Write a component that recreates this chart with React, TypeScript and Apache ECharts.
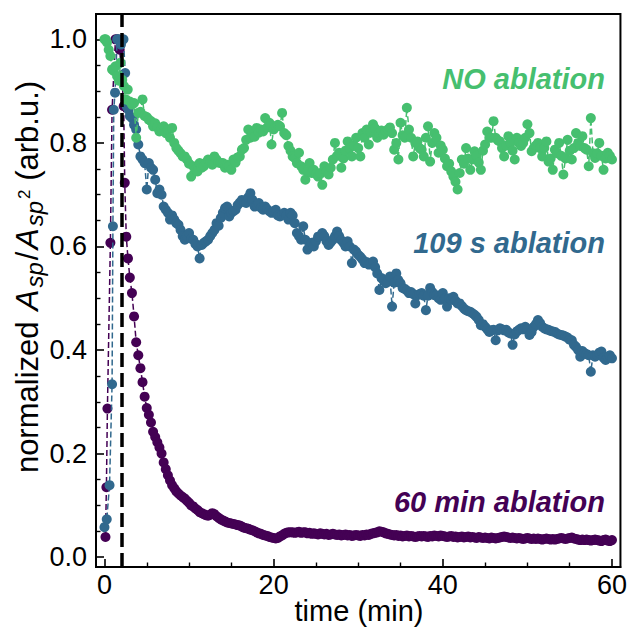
import { useEffect, useRef } from "react";
import * as echarts from "echarts";

// ---- sampling grid (minutes) for the regularly sampled part of each trace ----
const GRID_START = 3;
const GRID_STEP = 0.25;

// ---- NO ablation ----
const noAblationEarlyTime = [0, 0.15, 0.3, 0.5, 0.7, 0.9, 1.1, 1.3, 1.5, 1.7, 1.9, 2.1, 2.3, 2.5, 2.75];
const noAblationEarlyValues = [1.0, 1.0, 0.994, 0.98, 0.968, 0.942, 0.939, 0.948, 0.929, 0.92, 0.955, 0.922, 0.91, 0.884, 0.903];
const noAblationValues = [
  0.88, 0.874, 0.877, 0.81, 0.858, 0.86, 0.884, 0.852, 0.85, 0.845, 0.842, 0.832, 0.838, 0.83, 0.822, 0.828, 0.832, 0.819, 0.826, 0.81,
  0.829, 0.8, 0.79, 0.785, 0.78, 0.774, 0.774, 0.768, 0.76, 0.735, 0.755, 0.748, 0.745, 0.761, 0.752, 0.755, 0.762, 0.768, 0.765, 0.758,
  0.774, 0.768, 0.762, 0.761, 0.761, 0.752, 0.758, 0.755, 0.748, 0.768, 0.762, 0.772, 0.774, 0.787, 0.79, 0.806, 0.826, 0.81, 0.819, 0.812,
  0.829, 0.82, 0.826, 0.822, 0.848, 0.83, 0.839, 0.797, 0.826, 0.832, 0.835, 0.832, 0.858, 0.819, 0.815, 0.794, 0.785, 0.774, 0.771, 0.761,
  0.781, 0.755, 0.748, 0.729, 0.745, 0.761, 0.742, 0.748, 0.74, 0.735, 0.742, 0.719, 0.755, 0.745, 0.739, 0.752, 0.768, 0.8, 0.775, 0.781,
  0.752, 0.77, 0.785, 0.803, 0.79, 0.774, 0.795, 0.81, 0.79, 0.774, 0.819, 0.81, 0.826, 0.797, 0.82, 0.836, 0.828, 0.81, 0.819, 0.824,
  0.816, 0.822, 0.826, 0.83, 0.819, 0.787, 0.8, 0.768, 0.839, 0.815, 0.81, 0.868, 0.826, 0.81, 0.774, 0.8, 0.803, 0.79, 0.787, 0.774,
  0.81, 0.832, 0.764, 0.8, 0.819, 0.81, 0.781, 0.795, 0.787, 0.77, 0.755, 0.76, 0.745, 0.735, 0.725, 0.71, 0.742, 0.768, 0.76, 0.79,
  0.77, 0.748, 0.768, 0.784, 0.775, 0.762, 0.748, 0.785, 0.797, 0.822, 0.81, 0.81, 0.842, 0.81, 0.805, 0.803, 0.79, 0.774, 0.795, 0.813,
  0.8, 0.785, 0.768, 0.81, 0.8, 0.794, 0.8, 0.81, 0.836, 0.819, 0.784, 0.79, 0.795, 0.8, 0.79, 0.774, 0.79, 0.803, 0.764, 0.77,
  0.748, 0.787, 0.78, 0.8, 0.775, 0.739, 0.77, 0.806, 0.785, 0.768, 0.79, 0.819, 0.8, 0.794, 0.813, 0.79, 0.787, 0.755, 0.848, 0.78,
  0.771, 0.78, 0.8, 0.775, 0.748, 0.77, 0.781, 0.775, 0.768,
];

// ---- 109 s ablation ----
const ablation109EarlyTime = [0, 0.27, 0.6, 0.9, 1.0, 1.1, 1.25, 1.5, 1.7, 1.95, 2.25, 2.45, 2.65, 2.85];
const ablation109EarlyValues = [0.058, 0.073, 0.139, 0.334, 0.639, 0.864, 0.897, 1.0, 1.0, 0.99, 1.0, 0.935, 0.87, 0.864];
const ablation109Values = [
  0.852, 0.848, 0.835, 0.826, 0.797, 0.774, 0.768, 0.761, 0.71, 0.761, 0.752, 0.748, 0.729, 0.703, 0.71, 0.7, 0.677, 0.671, 0.665, 0.652,
  0.66, 0.652, 0.645, 0.642, 0.632, 0.62, 0.613, 0.62, 0.626, 0.615, 0.613, 0.605, 0.6, 0.577, 0.603, 0.607, 0.61, 0.613, 0.62, 0.626,
  0.632, 0.645, 0.64, 0.655, 0.665, 0.674, 0.677, 0.658, 0.665, 0.668, 0.671, 0.68, 0.685, 0.69, 0.686, 0.684, 0.695, 0.703, 0.69, 0.677,
  0.68, 0.684, 0.675, 0.671, 0.677, 0.672, 0.668, 0.665, 0.668, 0.671, 0.66, 0.658, 0.662, 0.665, 0.66, 0.652, 0.665, 0.66, 0.645, 0.626,
  0.62, 0.613, 0.639, 0.613, 0.594, 0.6, 0.607, 0.6, 0.61, 0.619, 0.62, 0.626, 0.62, 0.61, 0.603, 0.608, 0.613, 0.62, 0.629, 0.62,
  0.612, 0.607, 0.6, 0.61, 0.6, 0.568, 0.594, 0.59, 0.584, 0.58, 0.575, 0.568, 0.57, 0.565, 0.568, 0.571, 0.56, 0.548, 0.516, 0.539,
  0.535, 0.529, 0.532, 0.542, 0.484, 0.53, 0.548, 0.535, 0.529, 0.52, 0.518, 0.515, 0.51, 0.512, 0.508, 0.49, 0.506, 0.508, 0.51, 0.505,
  0.477, 0.505, 0.52, 0.512, 0.506, 0.506, 0.5, 0.497, 0.51, 0.5, 0.484, 0.5, 0.497, 0.503, 0.495, 0.49, 0.49, 0.485, 0.48, 0.477,
  0.475, 0.474, 0.471, 0.468, 0.464, 0.458, 0.448, 0.45, 0.445, 0.44, 0.435, 0.438, 0.439, 0.419, 0.438, 0.442, 0.44, 0.438, 0.439, 0.434,
  0.432, 0.41, 0.43, 0.436, 0.439, 0.442, 0.44, 0.445, 0.44, 0.429, 0.435, 0.445, 0.45, 0.458, 0.452, 0.445, 0.442, 0.44, 0.439, 0.437,
  0.436, 0.435, 0.432, 0.43, 0.429, 0.428, 0.426, 0.424, 0.42, 0.419, 0.41, 0.406, 0.4, 0.387, 0.398, 0.394, 0.392, 0.39, 0.358, 0.39,
  0.387, 0.39, 0.395, 0.397, 0.385, 0.381, 0.386, 0.39, 0.384,
];

// ---- 60 min ablation ----
const ablation60EarlyTime = [0.12, 0.23, 0.35, 0.7, 0.9, 1.3, 1.55, 1.8, 2.05, 2.27, 2.4, 2.58, 2.78];
const ablation60EarlyValues = [0.039, 0.135, 0.287, 0.607, 0.864, 1.0, 1.0, 0.98, 0.93, 0.871, 0.723, 0.619, 0.577];
const ablation60Values = [
  0.54, 0.51, 0.465, 0.415, 0.39, 0.365, 0.338, 0.31, 0.288, 0.275, 0.26, 0.242, 0.232, 0.222, 0.212, 0.2, 0.183, 0.17, 0.158, 0.148,
  0.139, 0.133, 0.127, 0.123, 0.119, 0.116, 0.113, 0.109, 0.105, 0.1, 0.098, 0.094, 0.091, 0.087, 0.085, 0.083, 0.081, 0.08, 0.082, 0.085,
  0.083, 0.079, 0.076, 0.073, 0.071, 0.069, 0.067, 0.066, 0.065, 0.064, 0.063, 0.062, 0.061, 0.059, 0.057, 0.056, 0.055, 0.053, 0.052, 0.05,
  0.048, 0.046, 0.045, 0.043, 0.042, 0.041, 0.039, 0.038, 0.037, 0.036, 0.037, 0.04, 0.042, 0.045, 0.047, 0.048, 0.048, 0.048, 0.047, 0.048,
  0.049, 0.047, 0.048, 0.048, 0.046, 0.047, 0.045, 0.046, 0.045, 0.044, 0.046, 0.045, 0.044, 0.045, 0.043, 0.044, 0.045, 0.044, 0.043, 0.044,
  0.042, 0.043, 0.044, 0.042, 0.043, 0.041, 0.042, 0.043, 0.042, 0.041, 0.043, 0.042, 0.044, 0.043, 0.045, 0.046, 0.047, 0.048, 0.05, 0.049,
  0.048, 0.046, 0.045, 0.044, 0.043, 0.042, 0.043, 0.041, 0.042, 0.04, 0.041, 0.042, 0.04, 0.041, 0.04, 0.039, 0.04, 0.041, 0.04, 0.041,
  0.04, 0.039, 0.041, 0.04, 0.042, 0.041, 0.04, 0.042, 0.041, 0.04, 0.039, 0.04, 0.041, 0.039, 0.04, 0.038, 0.039, 0.04, 0.038, 0.039,
  0.04, 0.038, 0.039, 0.038, 0.037, 0.039, 0.038, 0.037, 0.038, 0.037, 0.036, 0.038, 0.037, 0.036, 0.037, 0.038, 0.039, 0.04, 0.039, 0.038,
  0.037, 0.038, 0.037, 0.036, 0.037, 0.036, 0.035, 0.036, 0.037, 0.036, 0.035, 0.036, 0.035, 0.036, 0.035, 0.034, 0.035, 0.036, 0.035, 0.034,
  0.035, 0.034, 0.035, 0.036, 0.037, 0.036, 0.035, 0.036, 0.037, 0.038, 0.036, 0.035, 0.034, 0.033, 0.034, 0.033, 0.034, 0.033, 0.032, 0.033,
  0.034, 0.033, 0.032, 0.031, 0.033, 0.034, 0.032, 0.031, 0.033,
];

// ---- axes ----
const xMajorTicks = [0, 20, 40, 60];
const xMinorTicks = [5, 10, 15, 25, 30, 35, 45, 50, 55];
const yMajorTicks = [0, 0.2, 0.4, 0.6, 0.8, 1.0];
const yMinorTicks = [0.05, 0.1, 0.15, 0.25, 0.3, 0.35, 0.45, 0.5, 0.55, 0.65, 0.7, 0.75, 0.85, 0.9, 0.95];
const laserOffTime = 2;

const labels = ["NO ablation", "109 s ablation", "60 min ablation"];
const colors = ["#46bf6f", "#31698e", "#440154"];

const FONT = '"Liberation Sans", Arial, Helvetica, sans-serif';

function buildPairs(earlyT: number[], earlyV: number[], values: number[]) {
  const pts: number[][] = earlyT.map((t, i) => [t, earlyV[i]]);
  values.forEach((v, i) => pts.push([GRID_START + i * GRID_STEP, v]));
  return pts;
}

export default function App() {
  const ref = useRef<HTMLDivElement>(null);
  useEffect(() => {
    if (!ref.current) return;
    const chart = echarts.init(ref.current, null, { renderer: "svg" });
    const seriesData = [
      buildPairs(ablation60EarlyTime, ablation60EarlyValues, ablation60Values),
      buildPairs(ablation109EarlyTime, ablation109EarlyValues, ablation109Values),
      buildPairs(noAblationEarlyTime, noAblationEarlyValues, noAblationValues),
    ];
    const seriesColors = [colors[2], colors[1], colors[0]];
    const seriesNames = [labels[2], labels[1], labels[0]];

    const axisCommonX = { type: "value" as const, min: -1, max: 61, splitLine: { show: false } };
    const axisCommonY = { type: "value" as const, min: -0.019, max: 1.049, splitLine: { show: false } };

    chart.setOption({
      animation: false,
      backgroundColor: "#ffffff",
      grid: {
        left: 96,
        right: 7,
        top: 14,
        bottom: 63,
        show: true,
        borderColor: "#000",
        borderWidth: 2,
        backgroundColor: "transparent",
      },
      xAxis: [
        {
          ...axisCommonX,
          position: "bottom",
          axisLine: { show: true, onZero: false, lineStyle: { color: "#000", width: 2 } },
          axisTick: { show: true, inside: true, length: 8, lineStyle: { color: "#000", width: 1.6 }, customValues: xMajorTicks },
          axisLabel: { show: true, customValues: xMajorTicks, color: "#000", fontSize: 27, fontFamily: FONT, margin: 4 },
        },
        {
          ...axisCommonX,
          position: "bottom",
          axisLine: { show: false, onZero: false },
          axisTick: { show: true, inside: true, length: 4.5, lineStyle: { color: "#000", width: 1.4 }, customValues: xMinorTicks },
          axisLabel: { show: false },
        },
      ],
      yAxis: [
        {
          ...axisCommonY,
          position: "left",
          axisLine: { show: true, onZero: false, lineStyle: { color: "#000", width: 2 } },
          axisTick: { show: true, inside: true, length: 8, lineStyle: { color: "#000", width: 1.6 }, customValues: yMajorTicks },
          axisLabel: {
            show: true,
            customValues: yMajorTicks,
            color: "#000",
            fontSize: 27,
            fontFamily: FONT,
            margin: 9,
            formatter: (v: number) => v.toFixed(1),
          },
        },
        {
          ...axisCommonY,
          position: "left",
          axisLine: { show: false, onZero: false },
          axisTick: { show: true, inside: true, length: 4.5, lineStyle: { color: "#000", width: 1.4 }, customValues: yMinorTicks },
          axisLabel: { show: false },
        },
      ],
      series: [
        ...seriesData.map((d, i) => ({
          name: seriesNames[i],
          type: "line",
          xAxisIndex: 0,
          yAxisIndex: 0,
          data: d,
          symbol: "circle",
          symbolSize: 10,
          showSymbol: true,
          silent: true,
          z: 2 + i,
          itemStyle: { color: seriesColors[i], borderWidth: 0 },
          lineStyle: { color: seriesColors[i], width: 1.5, type: "dashed" },
        })),
        {
          type: "line",
          xAxisIndex: 0,
          yAxisIndex: 0,
          data: [],
          z: 10,
          silent: true,
          markLine: {
            silent: true,
            symbol: ["none", "none"],
            label: { show: false },
            lineStyle: { color: "#000", width: 3.5, type: [14, 6] },
            data: [{ xAxis: laserOffTime }],
          },
        },
      ],
      graphic: [
        {
          type: "text",
          x: 605,
          y: 79,
          style: { text: labels[0], fill: colors[0], fontSize: 29, fontWeight: "bold", fontStyle: "italic", fontFamily: FONT, align: "right", verticalAlign: "middle" },
        },
        {
          type: "text",
          x: 605,
          y: 243,
          style: { text: labels[1], fill: colors[1], fontSize: 29, fontWeight: "bold", fontStyle: "italic", fontFamily: FONT, align: "right", verticalAlign: "middle" },
        },
        {
          type: "text",
          x: 605,
          y: 502,
          style: { text: labels[2], fill: colors[2], fontSize: 29, fontWeight: "bold", fontStyle: "italic", fontFamily: FONT, align: "right", verticalAlign: "middle" },
        },
        {
          type: "text",
          x: 359,
          y: 611,
          style: { text: "time (min)", fill: "#000", fontSize: 29, fontFamily: FONT, align: "center", verticalAlign: "middle" },
        },
        {
          type: "text",
          x: 27,
          y: 277,
          rotation: Math.PI / 2,
          style: {
            text: "{n|normalized }{a|A}{s|sp}{n|/}{a|A}{s|sp}{p|2}{n| (arb.u.)}",
            fill: "#000",
            fontFamily: FONT,
            align: "center",
            verticalAlign: "middle",
            rich: {
              n: { fontSize: 31, fontFamily: FONT, lineHeight: 38, verticalAlign: "middle", fill: "#000" },
              a: { fontSize: 32, fontFamily: FONT, fontStyle: "italic", lineHeight: 38, verticalAlign: "middle", fill: "#000", padding: [0, 1, 0, 2] },
              s: { fontSize: 24, fontFamily: FONT, fontStyle: "italic", lineHeight: 24, verticalAlign: "bottom", fill: "#000", padding: [0, 2, 0, 1] },
              p: { fontSize: 17, fontFamily: FONT, lineHeight: 17, verticalAlign: "middle", fill: "#000", padding: [0, 0, 6, 0] },
            },
          },
        },
      ],
    });
    return () => chart.dispose();
  }, []);
  return (
    <div
      ref={ref}
      style={{ position: "fixed", left: 0, top: 0, width: 630, height: 630, background: "#fff" }}
    />
  );
}
